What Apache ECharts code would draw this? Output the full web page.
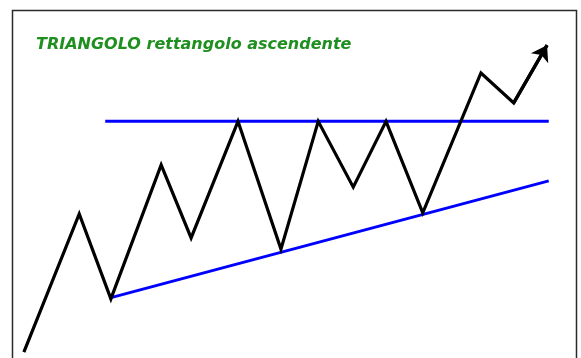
<!DOCTYPE html>
<html>
<head>
<meta charset="utf-8">
<script src="https://cdn.jsdelivr.net/npm/echarts@6/dist/echarts.min.js"></script>
<style>
  html, body { margin: 0; padding: 0; background: #fff; }
  #chart { width: 581px; height: 358px; }
</style>
</head>
<body>
<div id="chart"></div>
<script>
// Price path of the pattern: time (x) and price (y), both on a 0-100 scale
const pathTime  = [2.1, 11.9, 17.5, 26.4, 31.7, 40.0, 47.6, 54.2, 60.4, 66.2, 72.7, 83.0, 88.8, 94.7];
const pathPrice = [1.7, 41.4, 17.0, 55.5, 34.5, 68.0, 31.3, 68.0, 49.1, 68.0, 41.7, 81.9, 73.3, 89.9];

// Horizontal resistance
const resistanceTime  = [16.5, 95.0];
const resistancePrice = [68.0, 68.0];

// Rising support
const supportTime  = [17.2, 95.0];
const supportPrice = [17.2, 50.9];

const titleText = 'TRIANGOLO rettangolo ascendente';

const zip = (xs, ys) => xs.map((x, i) => [x, ys[i]]);
const path = zip(pathTime, pathPrice);
const last = path.length - 1;

const chart = echarts.init(document.getElementById('chart'), null, { renderer: 'canvas' });

const hiddenAxis = {
  type: 'value', min: 0, max: 100,
  axisLine: { show: false }, axisTick: { show: false },
  axisLabel: { show: false }, splitLine: { show: false }
};

chart.setOption({
  animation: false,
  backgroundColor: '#ffffff',
  title: {
    text: titleText,
    left: 31, top: 32,
    textStyle: {
      fontFamily: 'DejaVu Sans', fontStyle: 'italic', fontWeight: 'bold',
      fontSize: 16, color: '#1f8f1f'
    }
  },
  // Frame open at the bottom edge
  graphic: [{
    type: 'polyline',
    shape: { points: [[12.5, 362], [12.5, 10.5], [576.5, 10.5], [576.5, 362]] },
    style: { fill: 'none', stroke: '#2a2a2a', lineWidth: 1.5 },
    silent: true, z: 10
  }],
  grid: { left: 12, right: 4, top: 10, bottom: 0 },
  xAxis: hiddenAxis,
  yAxis: hiddenAxis,
  series: [
    {
      type: 'line', data: zip(resistanceTime, resistancePrice),
      showSymbol: false, silent: true, z: 2,
      lineStyle: { color: '#0000ff', width: 3 }
    },
    {
      type: 'line', data: zip(supportTime, supportPrice),
      showSymbol: false, silent: true, z: 2,
      lineStyle: { color: '#0000ff', width: 3 }
    },
    {
      type: 'line', data: path,
      showSymbol: false, silent: true, z: 3,
      lineStyle: { color: '#000000', width: 3.2, join: 'miter', miterLimit: 20 },
      markLine: {
        silent: true,
        symbol: ['none', 'arrow'],
        symbolSize: 15,
        label: { show: false },
        lineStyle: { color: '#000000', width: 3.2, type: 'solid' },
        data: [[{ coord: path[last - 1] }, { coord: path[last] }]]
      }
    }
  ]
});
</script>
</body>
</html>
